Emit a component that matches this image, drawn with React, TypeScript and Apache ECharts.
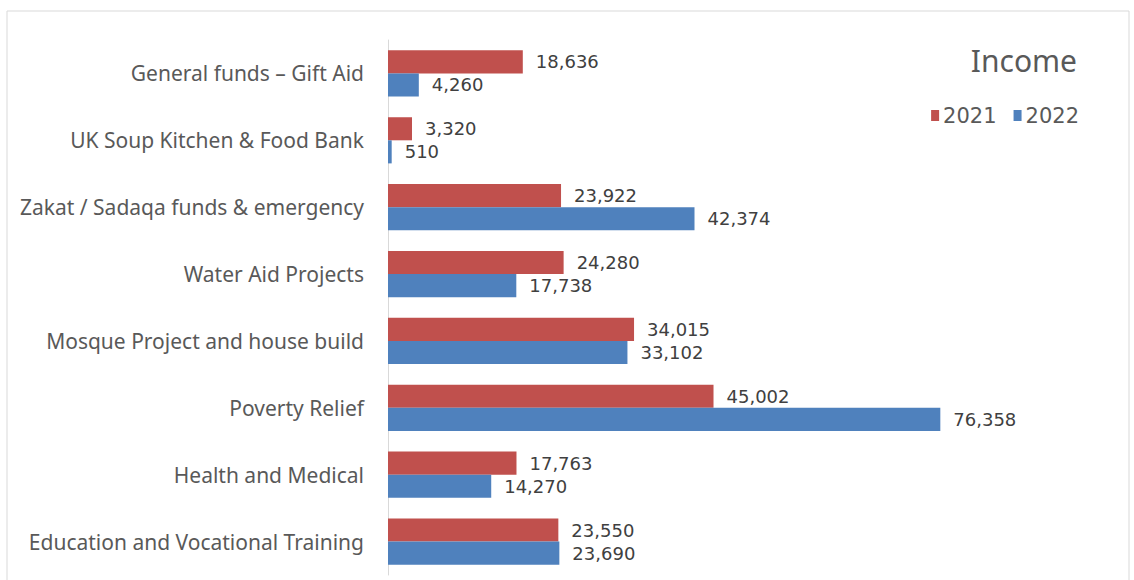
import React, { useEffect, useRef } from "react";
import * as echarts from "echarts";

const categories = [
  "General funds – Gift Aid",
  "UK Soup Kitchen & Food Bank",
  "Zakat / Sadaqa funds & emergency",
  "Water Aid Projects",
  "Mosque Project and house build",
  "Poverty Relief",
  "Health and Medical",
  "Education and Vocational Training",
];
const values2021 = [18636, 3320, 23922, 24280, 34015, 45002, 17763, 23550];
const values2022 = [4260, 510, 42374, 17738, 33102, 76358, 14270, 23690];
const seriesNames = ["2021", "2022"];
const chartTitle = "Income";

const FONT = "Noto Sans";

export default function App() {
  const ref = useRef<HTMLDivElement>(null);
  useEffect(() => {
    document.body.style.margin = "0";
    const chart = echarts.init(ref.current!, null, { renderer: "svg" });
    const fmt = (p: any) => Number(p.value).toLocaleString("en-US");
    const labelStyle = {
      show: true,
      position: "right",
      distance: 13,
      formatter: fmt,
      fontFamily: "DejaVu Sans",
      fontSize: 18,
      lineHeight: 19,
      color: "#404040",
    };
    chart.setOption({
      animation: false,
      backgroundColor: "#ffffff",
      graphic: [
        {
          type: "rect",
          shape: { x: 7, y: 11, width: 1122, height: 600 },
          style: { fill: "none", stroke: "#d9d9d9", lineWidth: 1 },
          silent: true,
        },
      ],
      title: {
        text: chartTitle,
        right: 52,
        top: 40,
        textStyle: { fontFamily: FONT, fontSize: 30, fontWeight: "normal", color: "#595959" },
      },
      legend: {
        data: seriesNames,
        right: 50,
        top: 100,
        itemWidth: 8,
        itemHeight: 11,
        itemGap: 17,
        icon: "rect",
        textStyle: {
          fontFamily: "DejaVu Sans",
          fontSize: 21,
          color: "#595959",
          padding: [0, 0, 0, -1],
        },
      },
      grid: { left: 388, top: 40, width: 651, height: 535 },
      xAxis: {
        type: "value",
        min: 0,
        max: 90000,
        show: false,
      },
      yAxis: {
        type: "category",
        data: categories,
        inverse: true,
        axisLine: { show: true, lineStyle: { color: "#d9d9d9" } },
        axisTick: { show: false },
        axisLabel: { fontFamily: FONT, fontSize: 21, color: "#595959", margin: 24 },
      },
      series: [
        {
          name: seriesNames[0],
          type: "bar",
          data: values2021,
          barGap: "0%",
          barCategoryGap: "31%",
          itemStyle: { color: "#c0504d" },
          label: labelStyle,
        },
        {
          name: seriesNames[1],
          type: "bar",
          data: values2022,
          barGap: "0%",
          barCategoryGap: "31%",
          itemStyle: { color: "#4f81bd" },
          label: labelStyle,
        },
      ],
    });
    return () => chart.dispose();
  }, []);
  return <div ref={ref} style={{ width: 1134, height: 580 }} />;
}
